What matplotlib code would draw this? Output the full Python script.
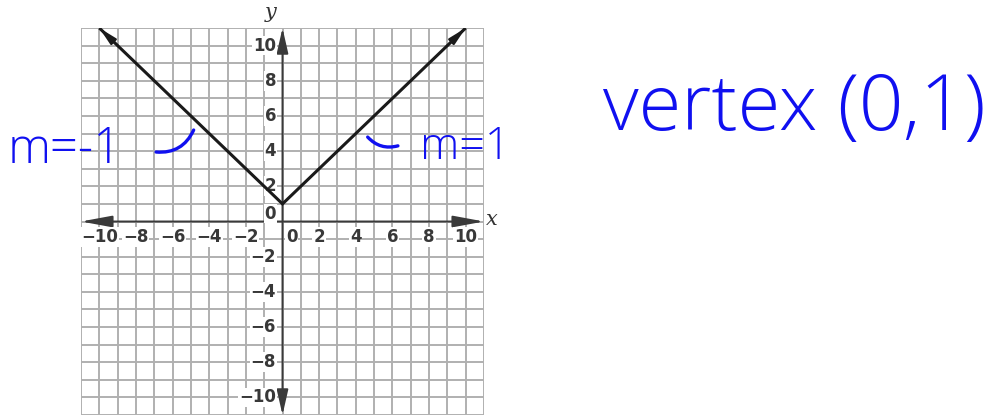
import numpy as np
import matplotlib
matplotlib.use('Agg')
import matplotlib.pyplot as plt

# V-shaped graph y = |x| + 1 drawn from its end points and vertex
graph_x = [-10, 0, 10]
graph_y = [11, 1, 11]

# axis range and labelled ticks
axis_min, axis_max = -11, 11
tick_values = [-10, -8, -6, -4, -2, 2, 4, 6, 8, 10]
tick_labels = ['\u2212' + str(-v) if v < 0 else str(v) for v in tick_values]

# handwritten notes
left_note = 'm=-1'
right_note = 'm=1'
vertex_note = 'vertex (0,1)'
ink = '#1010f0'

fig = plt.figure(figsize=(9.92, 4.17), dpi=100)
ax = fig.add_axes([81 / 992, 2 / 417, 403 / 992, 387 / 417])
ax.set_xlim(axis_min, axis_max)
ax.set_ylim(axis_min, axis_max)

# unit grid
grid_pos = np.arange(axis_min, axis_max + 1)
for g in grid_pos:
    ax.axvline(g, color='#b0b0b0', lw=1.4, zorder=1)
    ax.axhline(g, color='#b0b0b0', lw=1.4, zorder=1)
for s in ax.spines.values():
    s.set_visible(False)
ax.set_xticks([])
ax.set_yticks([])

# axes with arrowheads at both ends
axis_col = '#3a3a3a'
ax.annotate('', xy=(axis_max, 0), xytext=(axis_min, 0),
            arrowprops=dict(arrowstyle='<|-|>,head_length=1.35,head_width=0.25',
                            mutation_scale=14, color=axis_col, lw=1.4,
                            shrinkA=0, shrinkB=0), zorder=3)
ax.annotate('', xy=(0, axis_max), xytext=(0, axis_min),
            arrowprops=dict(arrowstyle='<|-|>,head_length=1.1,head_width=0.25',
                            mutation_scale=14, color=axis_col, lw=1.4,
                            shrinkA=0, shrinkB=0), zorder=3)

# tick labels with white backing
lbl = dict(fontsize=12, fontweight='bold', color='#383838', zorder=4,
           bbox=dict(facecolor='white', edgecolor='none', pad=0.6))
for v, t in zip(tick_values, tick_labels):
    ax.text(v, -0.9, t, ha='center', va='center', **lbl)
    ax.text(-0.35, v, t, ha='right', va='center', **lbl)
ax.text(0.5, -0.9, '0', ha='center', va='center', **lbl)
ax.text(-0.35, 0.45, '0', ha='right', va='center', **lbl)

ax.text(-0.65, 11.9, 'y', fontsize=15, fontstyle='italic', family='DejaVu Serif',
        ha='center', va='center', color='#333333', clip_on=False)
ax.text(11.45, 0.1, 'x', fontsize=15, fontstyle='italic', family='DejaVu Serif',
        ha='center', va='center', color='#333333', clip_on=False)

# the graph with arrows at both ends
ax.plot(graph_x, graph_y, color='#1a1a1a', lw=2.2, zorder=5,
        solid_capstyle='butt', solid_joinstyle='miter')
for i0, i1 in [(1, 0), (1, 2)]:
    ax.annotate('', xy=(graph_x[i1], graph_y[i1]),
                xytext=(graph_x[i1] * 0.9, graph_y[i1] - abs(graph_x[i1]) * 0.1),
                arrowprops=dict(arrowstyle='-|>,head_length=0.9,head_width=0.2',
                                mutation_scale=12, color='#1a1a1a', lw=1.5,
                                shrinkA=0, shrinkB=0), zorder=5)

# ink strokes pointing at each branch
ax.annotate('', xy=(-4.85, 5.2), xytext=(-6.9, 3.95),
            arrowprops=dict(arrowstyle='-', color=ink, lw=2.4,
                            connectionstyle='arc3,rad=0.35', shrinkA=0, shrinkB=0),
            zorder=6)
ax.annotate('', xy=(6.3, 4.3), xytext=(4.65, 4.8),
            arrowprops=dict(arrowstyle='-', color=ink, lw=2.4,
                            connectionstyle='arc3,rad=0.3', shrinkA=0, shrinkB=0),
            zorder=6)

hand = dict(color=ink, family=['Open Sans', 'DejaVu Sans'], fontweight='light',
            va='center')
fig.text(8 / 992, 1 - 150 / 417, left_note, fontsize=35, ha='left', **hand)
fig.text(420 / 992, 1 - 148 / 417, right_note, fontsize=32, ha='left', **hand)
fig.text(603 / 992, 1 - 110 / 417, vertex_note, fontsize=56, ha='left', **hand)

fig.savefig('out.png', dpi=100)
